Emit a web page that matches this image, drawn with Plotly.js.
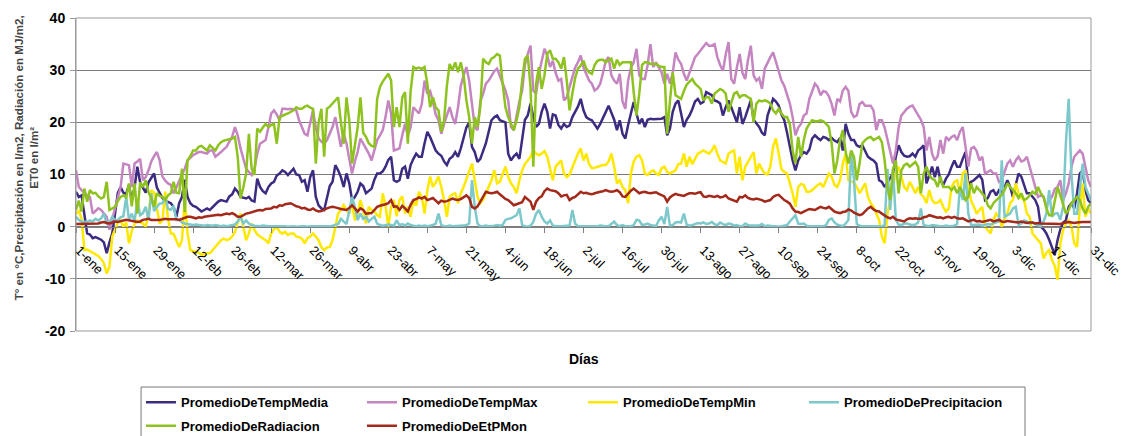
<!DOCTYPE html>
<html>
<head>
<meta charset="utf-8">
<script src="https://cdn.plot.ly/plotly-3.0.1.min.js"></script>
<style>html,body{margin:0;padding:0;background:#fff;}#chart{width:1127px;height:436px;}</style>
</head>
<body>
<div id="chart"></div>
<script>
const tickLabels = ['1-ene','15-ene','29-ene','12-feb','26-feb','12-mar','26-mar','9-abr','23-abr','7-may','21-may','4-jun','18-jun','2-jul','16-jul','30-jul','13-ago','27-ago','10-sep','24-sep','8-oct','22-oct','5-nov','19-nov','3-dic','17-dic','31-dic'];
const yTicks = [-20,-10,0,10,20,30,40];
const seriesNames = ['PromedioDeTempMedia','PromedioDeTempMax','PromedioDeTempMin','PromedioDePrecipitacion','PromedioDeRadiacion','PromedioDeEtPMon'];

const tempMedia = [
6.7,5.7,6,2,-1.3,-1.5,-2.2,-2,-2.2,-2.5,
-3,-5.1,-3,-1.3,2.5,6.5,7.6,6.5,6.3,8,
5,7.5,11.5,8.5,7.5,6.5,8.5,9.5,10.2,7.5,
6.5,5.5,5,4.8,4.5,3.8,1.9,4.5,5.7,9,
5.7,4.5,4,3.8,3.3,2.9,3.2,3.5,3.2,3.7,
4.2,4.8,5.1,5,4.8,5.8,6.2,7.3,6.7,5.7,
5.5,5.4,5.7,5,4.8,9.2,7.6,6.8,6.4,7.6,
8.3,8.6,9.8,10.2,10.8,10.5,9.9,10.5,11.1,10,
9.9,8.6,8.9,6.7,9.5,10.8,5.7,4.1,3.5,3.2,
5.7,7.8,8.6,11.8,10.8,9.5,7.6,10.2,8.3,5.1,
5.7,6.7,8.3,7.8,6.4,6.8,7.3,9,10.2,10.2,
10.6,11.5,12.8,13.4,8.9,8.6,8.9,11.1,11.5,9.2,
11.8,13,14,13.4,13.4,16,18.2,17.2,16,14.6,
14,13.6,12.5,11.8,13,13.4,14.3,13.4,15,17,
19,20,15.3,14.3,12.4,13,14.5,16,18.2,20.4,
21,21.3,20.4,20.2,20,14,12.7,13.5,14,13,
16.6,20.5,21.3,23.6,21,19.1,19.7,22,23.6,22,
18.8,21.5,21.3,19.5,18.8,19.7,19.1,19.4,21,22,
23,24.5,22.3,21,20.6,20.4,19.5,18.8,19.7,21,
22,23.2,22,20.5,18.5,20.4,17.8,16.9,19.5,22,
23.9,21.7,19.7,20.7,19.1,20.5,20.7,20.6,20.6,20.7,
20.7,21,17.5,18.8,22,23.6,24.2,21.7,19.1,20.5,
21.3,22.5,24,24.5,23.6,23.9,25.8,25.5,25.2,24.2,
24,23.6,21.3,22.9,24.2,22.9,21.5,20,22.9,19.7,
21,22.5,24.2,20.5,19.7,19.1,18,17.5,21.3,22.9,
24.5,24,23.2,21.5,20.4,18,15.3,12.7,10.8,12.7,
13.7,14.3,14,14.8,16.9,17.5,17,16.6,17.2,17,
16.6,17,16.5,16.2,17,14.6,19.7,17.8,16.6,16.6,
15.6,15.3,15.6,14.5,13.4,13,12.7,12.1,8.9,8.6,
7.6,8.5,9.5,10.2,13.4,15.6,14.3,13.6,13.4,13.5,
14,13.4,14.6,15,15.6,8.3,9.8,11.5,9.5,11.5,
8.9,8,9.2,10,11.5,12.7,11.5,11.5,13,14.3,
8,8.6,8.9,9.5,9.9,9,5.1,5.5,6.7,7,
6,7,6.7,7.5,8.9,7.6,5.7,8,10.2,9.6,
8,6.4,6.4,5.7,5.1,3.8,0,-0.5,-1.3,-2.5,
-3.8,-5.4,-2.6,-0.5,0.8,1.2,3.8,4.5,3.5,6.4,
10.2,10.8,7,5.1,4.5];

const tempMax = [
10.8,7.6,7,6.4,6,5.7,2.5,3,3.5,3.2,
2.5,1.9,-0.6,1.5,3.8,5.5,7.6,12.1,12,11.8,
7.6,12.1,12.5,13,8.9,9.5,10.8,12.5,13.5,14.3,
12.7,9.6,8.8,8.3,8,6.4,7.5,8.9,10,11.1,
12.7,13.2,13.7,14,14.3,14.3,14.1,14,14.6,14.6,
13.4,13.8,14.3,14.8,15.3,16.3,17.2,19.1,17.5,15,
13,11.1,10.5,9.9,11.1,14,15.9,16.3,16.6,19,
21.7,22.3,21.5,20.4,22.6,22.6,22.5,22.6,22.4,22.3,
20.4,19,17.8,17.5,20,22.3,19,16.9,16.3,15.9,
16.6,17.8,19.1,21,18,15.3,17.8,16,13,10.2,
12.5,14.3,16.9,16,15,14,12.7,14.5,16.6,17.5,
18.5,21,24.2,21.7,14.6,14.8,15,17.5,19.7,17.5,
19,22.9,22.3,21.7,23.5,28,25.5,26,24,21.5,
20.4,17.8,19.7,21.5,22.9,21,19.7,22.9,27,29,
30.6,28,23.5,19.1,18.5,24,25.5,27.4,28,29,
29.8,30.3,29,27.5,26.1,24.2,19.1,18.5,21.5,24,
26.1,31,33.1,34.7,26.1,25.5,29.3,32,34.1,32.8,
30.6,31.8,29.5,28,28.3,24.2,24.8,26.8,28.5,30.5,
31.5,32.8,30.5,29.3,28,27.4,26.1,26.5,27.4,29.5,
31.8,32.5,29,28,27.4,29.3,24,22.6,28,30.5,
31.5,34.1,29,28.3,28.3,31,35,30.6,31.5,30.5,
29.6,27.4,29.3,27.4,29.5,33.4,32,31.2,29.3,28,
29.5,31.2,32.5,33.1,33.8,34.4,35.2,34.7,34.7,35,
32.5,31,29.9,33,35.4,28.3,27.4,30.5,33.1,29.5,
28.3,32,34.7,29,28,28.5,26.4,30.3,31.5,32.5,
33.4,31.5,30,28,27,25.5,23.6,21,17.5,19,
19.7,21.3,21.7,24.5,26.1,27.4,26.8,25.2,26,25.8,
25,23.5,21.3,24.5,24,26.1,26.8,26,22,21,
21.3,23.5,23.9,23.2,23.2,23.2,22.3,18.5,20.4,20.4,
19,16.6,14.6,12.1,14.6,19,21.3,22,22.6,23,
23.2,22.3,21.5,20.5,19.1,14.6,17.2,14,12.7,13.5,
16.6,14,17.2,16.6,17.2,17.5,16.6,18.2,19.1,15.5,
11.5,15,15.3,14.5,12.7,13.4,10.2,10.5,10.8,10.2,
10.2,8.6,8.9,10.5,12.1,12.7,11.5,12.7,13.4,12.5,
12.7,13.4,11.5,9.9,7.5,5.7,6,5.7,3.8,5,
5.7,7.2,7.6,8.9,5.1,6.4,8.3,11.5,13.4,14,
14.6,14,11.5,8.9,7.6];

const tempMin = [
2.5,3,1.5,-4.5,-4.4,-4.7,-5.1,-5.3,-5.6,-6.2,
-7,-9,-7.7,-1.9,-0.5,0.8,1.2,0,0.8,-3.2,
-0.8,0.5,1.2,0.8,0.6,0,2.5,7,6.5,3.2,
0.6,1.2,6.7,1.5,-1.3,-1.4,-2.5,-3.9,-2.6,5.1,
-1.3,-4.5,-4.7,-4.8,-5,-5.4,-5.2,-5.1,-5.1,-4.5,
-3.9,-3.2,-2.6,-2.3,-2.6,-2.4,-1.9,-1,1,2.5,
0,-2.6,-1.3,0.6,-0.6,-1.5,-1.9,-2.3,-2.6,-3.2,
-1.3,-0.5,0,-1,-1.3,-1,-1.6,-1.3,-1.3,-1.9,
-2,-2.3,-3.2,-2.2,-1.9,-1.3,-2,-2.6,-3.9,-4.5,
-4,-3.9,-2.6,0,2.5,3.2,4.1,3.2,2.5,4.5,
1.2,2.5,5.1,3.2,0.6,3.8,3.2,3,2.2,1.9,
6.4,4,0,3.8,5.1,2,5.1,5.8,2.5,3.8,
1.9,5.1,4,6.7,5.7,2.5,7,9.6,7.6,8.5,
9.6,7.6,5.1,1.9,5.7,6.2,6.4,4.5,6.4,7.6,
9,10.8,12.1,8.9,5.7,4.5,5.2,6.4,7.6,8.9,
10.8,8.3,8.6,10,11.5,9.5,8.3,7.6,6.4,8.9,
10.8,12,12.7,13.4,14.6,14,13.7,14,14.5,13.4,
11.1,8.9,11.5,12.1,12.7,10.2,9.5,10,11.5,12.7,
14,15,12.7,14,12,11.2,11.3,11.5,11.7,11.8,
11.8,12.5,14,11.5,8.3,8.9,7.6,7,4.5,10.2,
12.5,13.4,13.7,12.7,10.2,9.9,10.5,10.8,10.2,9.9,
11.2,11.5,10.5,10.2,10.5,10.8,12,12.1,14,11.5,
13.4,12,13,14,14.3,14.6,14.3,14,14.6,15.6,
14,12.7,12.4,12.1,14,14.4,14.6,10.2,13.4,8.9,
11.5,12.5,13.5,14.3,10.2,12.1,11,10.2,10,11.5,
15.3,16.9,14,11,10.5,10.2,8.3,6.4,3.8,7.6,
8.2,8,6.7,6.7,7,7.6,8,8.3,7.6,8.9,
10.2,9.6,8,7.6,8.9,12.1,14,8.9,8.6,8.5,
7.6,6.4,7.4,8.3,5.7,4.5,3.8,2.5,1.3,-1.9,
-3.2,2.5,5.1,7.6,10.2,11.5,9.6,7.6,7,8.6,
7.6,6.4,7.6,6.2,5.7,4.5,7,5.1,4.5,4.6,
5.1,3.8,2.9,3.5,7.6,8.6,8.9,6.4,10.2,10.8,
7.6,5,3.8,2.5,3.2,3.8,0,-0.6,-1.3,1.3,
2.5,1.9,0,1.5,2.5,4.5,5.1,8.3,6.4,5.5,
5.1,2.5,1.9,-1.3,-2,-2.6,-3.2,-6.1,-5,-4.5,
-6.4,-7.5,-10.2,-3.2,-0.6,0.6,1.2,0,-3.2,-3.9,
3.8,8.3,1.9,3.5,2.5];

const precipitacion = [
1.9,1.3,1,1,0.9,1.2,1,1.5,1.2,1.6,
2.5,0.6,0.8,1.9,1.2,1.3,1.8,2,5.7,1.3,
2.5,1,5.1,2.2,2.6,3.8,1.3,6.4,3,3.8,
4.4,4.5,5.7,3.4,3.2,4,1.3,1.3,0.8,0.6,
0.5,0.5,0.3,0.4,0.3,0.2,0.2,0.3,0.2,0.2,
0.3,0.2,0.1,0.2,0.1,0.2,0.3,0.4,1,1.9,
0.6,1.2,0.6,0.3,0.2,0.1,0.1,0.2,0.1,0.1,
0.1,0.1,0.2,0.1,0.1,0.1,0,0.1,0.1,0,
0.1,0.1,0.1,0,0.1,0.1,0.1,0.1,0,0.1,
0.1,0.1,0.2,0.3,0.5,1.5,1,0.5,3,5.7,
3.8,1.3,2.5,1.5,1.9,1,1.5,1.9,0.6,0.3,
0.2,0.3,0.4,0.3,0.2,1.2,0.3,0.5,0.2,0.6,
0.3,0.2,0.1,0.2,0.1,0.2,0.1,0.2,0.3,0.6,
2.5,0.3,0.1,0.1,0.2,0.1,0.1,0.1,0.1,0.2,
0.3,0.6,8.9,3.8,0.6,0.1,0.1,0.2,0.1,0.1,
0.2,0.3,0.2,0.3,1.3,1.5,1.6,1.9,2.2,3.5,
0.3,0.1,0,0.2,0.9,2.5,3.2,1.9,1,0.6,
1.2,0.2,0.1,0.1,0.1,0.1,0.1,0.2,3.2,0.6,
0.1,0.1,0.1,0.1,0,0.1,0.1,0.1,0.2,0.1,
0.1,0.1,0.5,1,0.3,0.1,0.3,0.1,0.1,0.1,
0.3,1.3,1.2,0.3,0.4,0.6,0.3,0.2,0.1,1.2,
1.9,0.5,3.8,0.2,0.3,0.8,0.9,0.8,2.5,0.4,
0.2,0.3,0.5,0.7,0.6,0.8,0.5,0.6,0.9,0.5,
0.3,0.8,0.5,0.3,0.6,0.5,0.2,0.3,0.1,0.1,
0.6,0.3,0.2,0.2,0.1,0.2,0.5,0.1,0.2,0.1,
0.1,0.1,0,0.1,0.2,0.3,1,1.6,2.2,0.6,
0.5,0.6,0.2,0.1,0.1,0,0.1,0.1,0.1,0.3,
1.3,1.6,0.8,0.4,0.2,0.1,0.6,1.3,14.3,9,
0.5,0.2,0.1,0.1,0,0.1,0.1,0,0.1,0.1,
0.3,11.1,3.2,11.1,1.3,0.4,0.3,0.6,0.6,0.4,
0.3,0.4,0.8,3.5,0.3,0.2,0.1,0.3,0.2,0.1,
0.1,0.1,0.2,0.1,0.1,0.2,0.5,7.6,5.1,10.2,
2.5,0.3,0.3,0.3,0.4,0.2,0.3,0.5,0.4,0.6,
0.8,1,12.7,1.9,2.2,2.5,3.5,3.8,0.3,0.6,
1.2,1,0.6,0.8,0.5,0.3,0.1,1,2.5,7,
1.9,2.5,2.6,1.3,3.8,16,24.5,10,2.5,2.5,
7.6,12.1,7.6,6.4,5];

const radiacion = [
3.2,5,2.9,7.3,4.8,7,6.4,6.5,5.8,5.4,
5.7,8.6,3.2,3.5,3.8,4.9,5.7,6,5.6,8.3,
3.9,8.3,2.5,8.5,7.6,8.9,6.6,5.5,3.8,6.4,
5.9,5.7,5.1,6,6.4,8.6,6.5,6.4,11.1,2.8,
12.7,13.5,14.6,14.6,15.3,15.5,15,14.6,15.6,15,
14.6,15.6,16.2,16.5,16.6,16.8,16.9,17.2,13.4,5.4,
7.5,10.2,17.8,11.1,9.9,18.8,18.2,19,19.7,19.1,
19.5,19.7,15.9,21,21.3,21.5,21.7,22,22.3,22.9,
22.6,22.6,23,23.2,22.8,22.6,12.1,20,22.6,13.4,
22.6,23,23.6,24.2,24.8,20,15.9,24.8,20.4,12.1,
15.5,19,24.8,18,17.2,16,15.5,15.3,24.5,26.8,
27.8,28.6,29.3,28,19.1,22.9,19.1,24.8,25.8,15.9,
26,30.6,30.3,30.5,30.2,30.6,27.4,22.9,24.8,22.9,
22.3,18.2,20.4,27,31.2,30,31.5,29.6,31.5,29,
24.2,21,15.9,21,19.1,23,32.2,31.5,31.2,32.2,
32.5,33.1,32.8,27.4,22.9,21,19.7,18.5,20.4,22.9,
28,32.2,32.8,26.8,11.5,27.4,30.6,26.4,29,33.1,
33.8,32.2,32.2,31.5,30.3,32.5,28,22.3,25.5,28.5,
30.3,30.9,31.8,30.3,29.6,29.3,31,31.8,32,32,
31.5,32,32.2,30.3,32,31,31.5,31.5,31.5,31.5,
25.8,21.3,25.5,31,31.5,31.5,31.2,31.2,31.2,30.8,
30.6,30.6,17.8,24,29.6,25.2,24.8,24.5,26,27.2,
27.8,28.3,27.4,26.8,26.4,24.2,24.8,24.8,23.6,25.5,
26,26.4,26.1,25.5,22,23.6,25.5,25.8,24.8,25.2,
25.2,24.8,24.5,20,23.6,24.2,24,24.2,24,23.6,
22.3,21.7,22.6,21.7,21,21,19.7,14.6,12.1,17.2,
13.4,16.6,18.8,19.7,20.4,20.2,20.2,20.4,20.2,19.7,
19.1,15.9,10.2,12.7,16.6,18.5,14.3,12.1,14.6,13.4,
8.9,12.1,16,16.6,17,17.2,16.6,16.9,17.2,16.2,
12.7,7.5,5.1,11,12.7,6.4,10.8,11.8,12.1,11.5,
12,12.4,11.5,6.4,10.2,11.5,9.9,9.2,8.9,7.6,
9.6,7.6,7.6,7.6,7,7.6,6.4,7.6,6.5,5.1,
5.7,8.3,6.4,7.6,7,6.4,5.7,4.1,3.5,4.5,
5.1,5.5,6.1,7,8.3,7.6,7,6.4,5.5,6.4,
5.1,5.4,6,6.7,6.3,7.6,6.4,5.7,3.5,2.2,
2.2,5.1,7.6,6,4.1,2.5,3.2,4.5,5.1,5.7,
5.1,3.5,2.5,3.8,4.5];

const etpMon = [
0.5,0.5,0.5,0.6,0.5,0.5,0.5,0.5,0.6,0.8,
0.9,0.7,0.6,0.8,1,0.9,1.1,1.2,1.3,1.2,
1,1,0.9,1,1.3,1.4,1.5,1.3,1.3,1.2,
1.3,1.4,1.5,1.4,1.4,1.5,1.4,1.3,1.5,1.7,
1.9,1.9,1.7,1.6,1.8,1.7,1.9,2,2,2.1,
2.2,2.3,2.2,2.4,2.5,2.4,2.6,2.3,1.9,1.9,
2.2,2.5,2.6,2.8,3,3.1,3.2,3.1,3.4,3.5,
3.5,3.8,3.7,4.1,4,4.3,4.4,4.5,4.2,3.9,
3.8,3.5,3.6,3.3,3.2,3.5,3.1,2.9,3,3.3,
3.5,3.7,3.8,3.7,3.5,3.4,3.3,3.2,3.6,4.1,
3.5,2.9,3.5,3.2,2.5,2.5,2.6,3.2,3.8,4,
4.1,4.3,4.5,5.1,3.8,3.9,3.2,4,3.5,2.9,
4.2,5.1,5.3,5.6,5.4,5.7,5.1,5.3,5.5,5,
4.5,5,4.8,4.9,5.1,5.4,5.2,5.1,5.3,5.6,
6,5.5,3.8,3.5,3.9,4.8,5.9,6.7,6.5,6.4,
6.5,6.7,6.2,5.7,5.3,5.1,4.5,4.1,4.3,4.5,
4.7,5.7,5.3,4.8,3.2,4.8,5.5,5.8,6.8,7.3,
7,6.9,6.8,6.4,5.8,6,6.1,5.1,5.5,5.7,
6.2,6.7,6.4,6.5,6.3,6.2,6.4,6.6,6.7,6.8,
7,6.8,6.7,6.8,7,6.6,5.8,5.7,6.4,6.9,
7.3,6.8,6.4,6.6,6.7,6.5,6.4,6.5,6.6,6.3,
6,5.8,4.8,5.6,6,6.3,6.1,6,5.9,6.2,
6.4,6.4,6.3,6.5,6.6,5.8,5.7,5.9,5.8,5.7,
5.9,5.6,5.7,6,5.4,5.2,5,4.8,5.7,5.6,
6,5.5,5.3,5.2,5.4,5.3,5.1,4.8,5,5.1,
5.7,6,6.1,5.6,5.1,4.8,4.4,3.5,2.9,2.8,
2.6,2.9,3.2,3.4,3.3,3.2,3.5,3.8,3.6,3.5,
3.8,3.3,2.9,2.7,2.6,2.8,2.9,3.3,3.1,2.7,
2.5,2.2,2.4,2.9,3.5,3.8,3.3,3,2.9,2.5,
2.1,1.8,1.6,1.9,1.4,1.3,1.2,1,1.4,1.6,
1.5,1.6,1.5,1.5,1.8,1.9,2.2,2,1.9,1.7,
1.8,1.6,1.8,1.9,1.7,1.9,1.6,1.5,1.6,1.3,
1,1.2,1.3,1,1.1,0.9,1,1.1,1.3,1,
1.1,1.3,1,0.9,1.1,1,1,0.9,0.8,1,
0.9,0.7,0.8,0.8,0.6,0.7,0.6,0.6,0.5,0.5,
0.5,0.5,0.6,0.5,0.7,0.8,0.9,0.8,0.7,0.8,
0.9,0.9,0.9,0.9,0.9];

const days = tempMedia.map((_, i) => i);
const tickVals = tickLabels.map((_, i) => i * 14);

const colors = ['#3C2B80','#C485C0','#FFE800','#7DC8CB','#8EC31F','#A3291B'];
const values = [tempMedia, tempMax, tempMin, precipitacion, radiacion, etpMon];
const legendIds = ['legend','legend','legend','legend','legend2','legend2'];

const traces = values.map((v, k) => ({
  type: 'scatter', mode: 'lines', x: days, y: v, name: seriesNames[k],
  line: {color: colors[k], width: 2.5}, legend: legendIds[k], hoverinfo: 'skip'
}));

const FONT = 'Liberation Sans, Arial, sans-serif';
const legendCommon = {
  orientation: 'h', x: 0.064, xanchor: 'left', yanchor: 'top',
  entrywidth: 176, entrywidthmode: 'pixels', bgcolor: 'rgba(0,0,0,0)', borderwidth: 0,
  font: {family: FONT, size: 13, weight: 'bold', color: '#000'}, traceorder: 'normal',
  itemclick: false, itemdoubleclick: false
};

const layout = {
  width: 1127, height: 436,
  margin: {l: 76, r: 36, t: 18, b: 105, autoexpand: false},
  paper_bgcolor: '#ffffff', plot_bgcolor: '#ffffff',
  font: {family: FONT, color: '#000'},
  showlegend: true,
  xaxis: {
    range: [0, 364], tickmode: 'array', tickvals: tickVals, ticktext: tickLabels, tickangle: 45,
    anchor: 'free', position: 1/3, showline: true, linecolor: '#808080', linewidth: 1,
    ticks: 'outside', ticklen: 5, tickcolor: '#808080', showgrid: false, zeroline: false,
    ticklabelstandoff: 5, ticklabelshift: 3, ticklabeloverflow: 'allow',
    tickfont: {family: FONT, size: 13, color: '#000'}, automargin: false, fixedrange: true
  },
  yaxis: {
    range: [-20, 40], tickmode: 'array', tickvals: yTicks, ticktext: yTicks.map(String),
    showgrid: true, gridcolor: '#7a7a7a', gridwidth: 1, zeroline: false,
    showline: true, linecolor: '#999', linewidth: 1, ticks: 'outside', ticklen: 5, tickcolor: '#999',
    ticklabelstandoff: 2,
    tickfont: {family: FONT, size: 14, weight: 'bold', color: '#000'}, automargin: false, fixedrange: true
  },
  legend: Object.assign({}, legendCommon, {y: -0.18}),
  legend2: Object.assign({}, legendCommon, {y: -0.255}),
  shapes: [
    {type: 'rect', xref: 'paper', yref: 'paper', x0: 0, x1: 1, y0: 0, y1: 1, line: {color: '#999', width: 1}},
    {type: 'rect', xref: 'paper', yref: 'paper', x0: 0.0641, x1: 0.935, y0: -0.179, y1: -0.36, line: {color: '#777', width: 1}}
  ],
  annotations: [
    {xref: 'paper', yref: 'paper', x: -0.0498, y: 0.553, xanchor: 'center', yanchor: 'middle',
     text: 'T° en °C,Precipitación en l/m2, Radiación en MJ/m2,<br>ET0 en l/m²', textangle: -90, showarrow: false,
     font: {family: FONT, size: 11.6, weight: 'bold', color: '#444'}},
    {xref: 'paper', yref: 'paper', x: 0.5, y: -0.0895, xanchor: 'center', yanchor: 'middle',
     text: 'Días', showarrow: false, font: {family: FONT, size: 14, weight: 'bold', color: '#000'}}
  ]
};

Plotly.newPlot('chart', traces, layout, {staticPlot: true, displayModeBar: false});
</script>
</body>
</html>
